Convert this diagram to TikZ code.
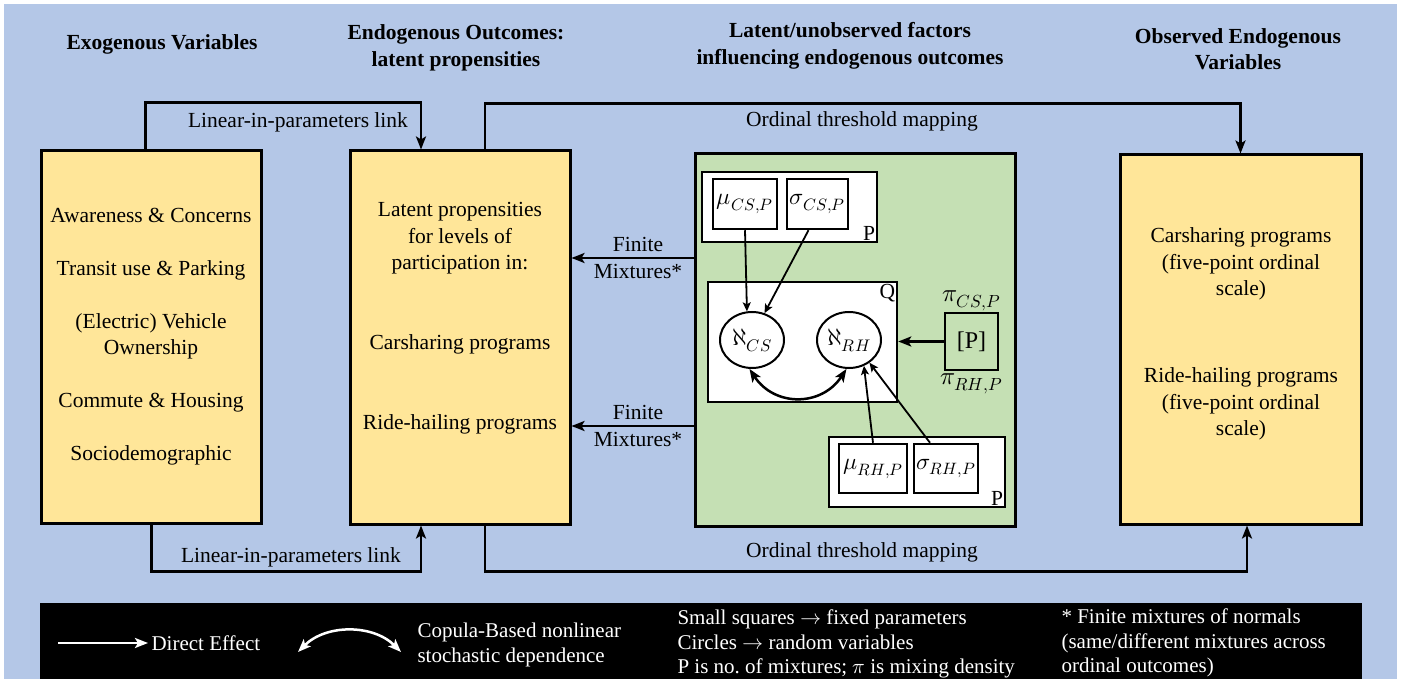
\documentclass[tikz,border=0pt]{standalone}
\usepackage{fontspec}
\usepackage{unicode-math}
\setmainfont{Liberation Serif}
\usetikzlibrary{arrows.meta,positioning,shapes.geometric}
\definecolor{bgblue}{HTML}{B4C7E7}
\definecolor{boxyellow}{HTML}{FFE699}
\definecolor{boxgreen}{HTML}{C5E0B4}
\tikzset{
  head/.style={font=\fontsize{21.5}{26.5}\selectfont\bfseries, align=center},
  colbox/.style={draw, line width=3pt, fill=boxyellow},
  plate/.style={draw, line width=2.5pt, fill=white},
  parbox/.style={draw, line width=2.5pt, fill=white, inner sep=0pt, font=\fontsize{23.5}{28}\selectfont},
  rv/.style={ellipse, draw, line width=2pt, fill=white, minimum width=64pt, minimum height=56pt, inner sep=0pt, font=\fontsize{24}{28}\selectfont},
  link/.style={line width=2.5pt, ->},
  inarr/.style={line width=1.8pt, -{Stealth[length=9pt,width=8pt,inset=2pt]}},
  legtxt/.style={text=white, font=\fontsize{21}{24.5}\selectfont, align=left, anchor=west}
}
\begin{document}
\begin{tikzpicture}[x=1pt, y=-1pt, font=\fontsize{21.5}{26.5}\selectfont,
  >={Stealth[length=13pt,width=10pt,inset=3pt]}]
  \useasboundingbox (0,0) rectangle (1401,679);
  \fill[bgblue] (4,4) rectangle (1397,679);
  % headings
  \node[head] (hExo) at (162,44) {Exogenous Variables};
  \node[head] (hEndo) at (456,48) {Endogenous Outcomes:\\latent propensities};
  \node[head] (hLat) at (850,46) {Latent/unobserved factors\\influencing endogenous outcomes};
  \node[head] (hObs) at (1238,49) {Observed Endogenous\\Variables};
  % the four columns
  \node[colbox, minimum width=220pt, minimum height=372pt] (exo) at (151,337) {};
  \node[colbox, minimum width=220pt, minimum height=373pt] (endo) at (460,337.5) {};
  \node[draw, line width=3pt, fill=boxgreen, minimum width=320pt, minimum height=372pt] (lat) at (855,340) {};
  \node[colbox, minimum width=241pt, minimum height=369pt] (obs) at (1240.5,339.5) {};
  \node[align=center] (exoTxt) at (151,336.5) {Awareness \& Concerns\\[26.5pt]Transit use \& Parking\\[26.5pt](Electric) Vehicle\\Ownership\\[26.5pt]Commute \& Housing\\[26.5pt]Sociodemographic};
  \node[align=center] (endoTxt) at (460,318.5) {Latent propensities\\for levels of\\participation in:\\[53.5pt]Carsharing programs\\[53.5pt]Ride-hailing programs};
  \node[align=center] (obsTxt) at (1241,334) {Carsharing programs\\(five-point ordinal\\scale)\\[60.5pt]Ride-hailing programs\\(five-point ordinal\\scale)};
  % links between columns
  \draw[link] ([xshift=106pt]exo.north west) -- ++(0,-47) -| ([xshift=72.5pt]endo.north west);
  \node (lkTop) at (298,122) {Linear-in-parameters link};
  \draw[link] ([xshift=112pt]exo.south west) -- ++(0,47) -| ([xshift=72.5pt]endo.south west);
  \node (lkBot) at (291,557) {Linear-in-parameters link};
  \draw[link] ([xshift=136.5pt]endo.north west) -- ++(0,-46) -| (obs.north);
  \node (ordTop) at (862,121) {Ordinal threshold mapping};
  \draw[link] ([xshift=136.5pt]endo.south west) -- ++(0,46) -| ([xshift=6.5pt]obs.south);
  \node (ordBot) at (862,552) {Ordinal threshold mapping};
  \path ([yshift=82pt]lat.west) coordinate (fmA) ([yshift=-86pt]lat.west) coordinate (fmB);
  \draw[link] (fmA) -- (fmA -| endo.east);
  \draw[link] (fmB) -- (fmB -| endo.east);
  \node[align=center] (fmTxtA) at (638,258) {Finite\\Mixtures*};
  \node[align=center] (fmTxtB) at (638,426) {Finite\\Mixtures*};
  % latent factors
  \node[plate, minimum width=175pt, minimum height=70pt] (plateCS) at (789.5,207) {};
  \node[parbox, minimum width=64pt, minimum height=50pt] (muCS) at (745,204) {$\mu_{CS,P}$};
  \node[parbox, minimum width=61pt, minimum height=50pt] (sigCS) at (817.5,204) {$\sigma_{CS,P}$};
  \node[anchor=south east, inner sep=3pt] (pCS) at (plateCS.south east) {P};
  \node[plate, minimum width=189pt, minimum height=120pt] (plateQ) at (802.5,342) {};
  \node[anchor=north east, inner sep=3pt] (qLbl) at (plateQ.north east) {Q};
  \node[rv] (ellCS) at (752,340) {$\aleph_{CS}$};
  \node[rv] (ellRH) at (849,340) {$\aleph_{RH}$};
  \node[draw, line width=2.5pt, minimum width=53pt, minimum height=57pt, inner sep=0pt,
    font=\fontsize{24}{28}\selectfont] (pbox) at (971.5,341.5) {[P]};
  \node[above=-3pt of pbox, font=\fontsize{25}{30}\selectfont] (piCS) {$\pi_{CS,P}$};
  \node[below=-1pt of pbox, font=\fontsize{25}{30}\selectfont] (piRH) {$\pi_{RH,P}$};
  \node[plate, minimum width=176pt, minimum height=70pt] (plateRH) at (917,472) {};
  \node[parbox, minimum width=68pt, minimum height=49pt] (muRH) at (873,468.5) {$\mu_{RH,P}$};
  \node[parbox, minimum width=64pt, minimum height=49pt] (sigRH) at (946,468.5) {$\sigma_{RH,P}$};
  \node[anchor=south east, inner sep=3pt] (pRH) at (plateRH.south east) {P};
  \draw[inarr] (muCS.south) -- (ellCS.100);
  \draw[inarr] ([xshift=-9pt]sigCS.south) -- (ellCS.65);
  \draw[inarr] (muRH.north) -- (ellRH.-60);
  \draw[inarr] ([xshift=-16pt]sigRH.north) -- (ellRH.-48);
  \draw[line width=2.5pt, <->] (ellCS.-95) .. controls +(25,38) and +(-25,38) .. (ellRH.-95);
  \draw[line width=2.5pt, ->] (pbox) -- (plateQ.east |- pbox);
  % legend
  \fill[black] (40,603) rectangle (1362,679);
  \coordinate (legA) at (58,643);
  \node[legtxt] (legDE) at (148,643) {Direct Effect};
  \draw[white, line width=2.5pt, ->] (legA) -- (legDE.west);
  \coordinate (cpL) at (298,652);
  \coordinate (cpR) at (401,652);
  \draw[white, line width=2.5pt, <->] (cpL) .. controls +(28,-28) and +(-28,-28) .. (cpR);
  \node[legtxt] (legCop) at (414,645) {Copula-Based nonlinear\\stochastic dependence};
  \node[legtxt] (legSq) at (674,644) {Small squares $\rightarrow$ fixed parameters\\Circles $\rightarrow$ random variables\\P is no.\ of mixtures; $\pi$ is mixing density};
  \node[legtxt] (legMix) at (1058,643) {* Finite mixtures of normals\\(same/different mixtures across\\ordinal outcomes)};
\end{tikzpicture}
\end{document}
